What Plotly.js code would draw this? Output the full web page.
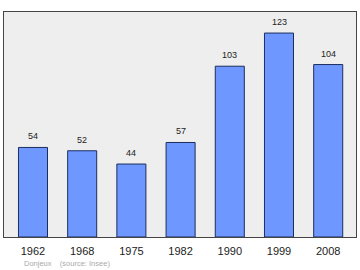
<!DOCTYPE html>
<html>
<head>
<meta charset="utf-8">
<script src="https://cdn.plot.ly/plotly-3.0.1.min.js"></script>
<style>html,body{margin:0;padding:0;background:#fff;}#chart{width:360px;height:270px;}</style>
</head>
<body>
<div id="chart"></div>
<script>
var years = ['1962', '1968', '1975', '1982', '1990', '1999', '2008'];
var population = [54, 52, 44, 57, 103, 123, 104];
var footerText = 'Donjeux \u00a0\u00a0\u00a0(source: Insee)';

var trace = {
  type: 'bar',
  x: years,
  y: population,
  width: 0.59,
  marker: {color: '#6e98ff', line: {color: '#1c2d5e', width: 1}},
  hoverinfo: 'none'
};

var annotations = years.map(function (yr, i) {
  return {
    x: i, y: population[i], xref: 'x', yref: 'y',
    text: String(population[i]), showarrow: false,
    yanchor: 'bottom', yshift: 4,
    font: {family: 'Liberation Sans, Arial, sans-serif', size: 9, color: '#222'}
  };
});
annotations.push({
  xref: 'paper', yref: 'paper', x: 0.051, y: -0.1156,
  xanchor: 'left', yanchor: 'middle', showarrow: false,
  text: footerText,
  font: {family: 'Liberation Sans, Arial, sans-serif', size: 7.5, color: '#aaaaaa'}
});

var layout = {
  width: 360, height: 270,
  margin: {l: 4, r: 4, t: 12, b: 33, pad: 0},
  paper_bgcolor: '#ffffff',
  plot_bgcolor: '#eeeeee',
  showlegend: false,
  xaxis: {
    type: 'category', range: [-0.589, 6.565],
    showgrid: false, zeroline: false,
    ticks: 'outside', ticklen: 4, tickcolor: 'rgba(0,0,0,0)',
    showline: true, linecolor: '#444', linewidth: 1, mirror: true,
    tickfont: {family: 'Liberation Sans, Arial, sans-serif', size: 11, color: '#222'},
    fixedrange: true
  },
  yaxis: {
    range: [0, 135.7], showgrid: false, zeroline: false,
    showticklabels: false, ticks: '',
    showline: true, linecolor: '#444', linewidth: 1, mirror: true,
    fixedrange: true
  },
  annotations: annotations
};

Plotly.newPlot('chart', [trace], layout, {displayModeBar: false, staticPlot: true});
</script>
</body>
</html>
